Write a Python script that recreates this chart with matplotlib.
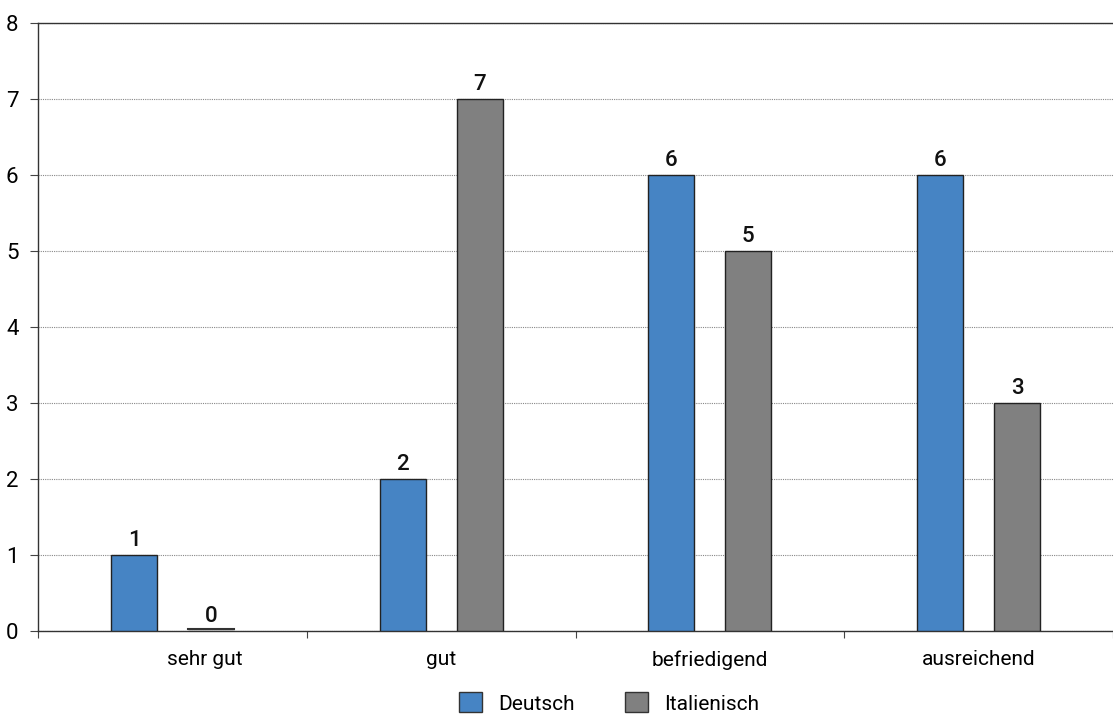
import matplotlib
matplotlib.use("Agg")
import matplotlib.pyplot as plt
import matplotlib.patches as mpatches
import matplotlib.transforms as mtransforms
import numpy as np

plt.rcParams["font.family"] = ["Roboto", "DejaVu Sans"]

categories = ["sehr gut", "gut", "befriedigend", "ausreichend"]
series_names = ["Deutsch", "Italienisch"]
deutsch = [1, 2, 6, 6]
italienisch = [0, 7, 5, 3]
yticks = [0, 1, 2, 3, 4, 5, 6, 7, 8]

COLORS = ["#4684C4", "#808080"]
W, H = 1113, 718

fig = plt.figure(figsize=(W / 100, H / 100), dpi=100)
ax = fig.add_axes([38 / W, (H - 631) / H, (W - 38) / W, 608 / H])

x = np.arange(len(categories))
width = 0.171
offset = 0.143
for vals, dx, col in [(deutsch, -offset, COLORS[0]), (italienisch, offset, COLORS[1])]:
    bars = ax.bar(x + dx, vals, width, color=col, edgecolor="#222222", linewidth=1.0, zorder=3)
    for b, v in zip(bars, vals):
        ax.text(b.get_x() + b.get_width() / 2, v + 0.05, str(v), ha="center", va="bottom",
                fontsize=16, fontweight="medium", color="#111111")
        # zero-height bar still shows as a thin line
        if v == 0:
            ax.plot([b.get_x(), b.get_x() + b.get_width()], [0.02, 0.02],
                    color="#333333", lw=1.5, zorder=4)

ax.set_xlim(-0.5, len(categories) - 0.5)
ax.set_ylim(0, 8)
ax.set_yticks(yticks)
ax.set_yticklabels([str(t) for t in yticks], fontsize=16)
ax.yaxis.grid(True, linestyle=(0, (1, 1)), color="#888888", linewidth=0.8, zorder=0)

ax.set_xticks(np.arange(len(categories) + 1) - 0.5)
ax.set_xticklabels([])
ax.set_xticks(x, minor=True)
ax.set_xticklabels(categories, minor=True, fontsize=15)
ax.tick_params(axis="x", which="minor", length=0, pad=14)
ax.tick_params(axis="x", which="major", length=5, color="#444444")
ax.tick_params(axis="y", length=6, color="#444444", pad=8)

# first category label sits a little right of its slot
first = ax.get_xticklabels(minor=True)[0]
first.set_transform(first.get_transform() + mtransforms.ScaledTranslation(32 / 100, 0, fig.dpi_scale_trans))

ax.spines["right"].set_visible(False)
for s in ["left", "top", "bottom"]:
    ax.spines[s].set_color("#333333")
    ax.spines[s].set_linewidth(1.0)

handles = [mpatches.Patch(facecolor=c, edgecolor="#333333", label=n) for c, n in zip(COLORS, series_names)]
fig.legend(handles=handles, loc="center", bbox_to_anchor=(609 / W, 1 - 703 / H), ncol=2,
           frameon=False, fontsize=15, handlelength=1.1, handleheight=1.1,
           handletextpad=0.8, columnspacing=2.4)

fig.savefig("out.png", dpi=100)
